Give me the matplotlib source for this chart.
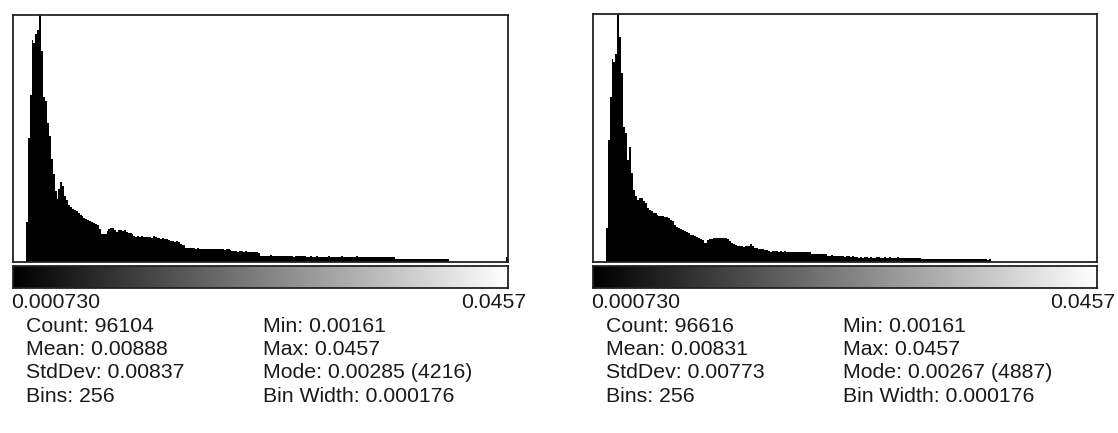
"""Two ImageJ-style histograms (256 bins) with grey ramp and stats block."""

import matplotlib
matplotlib.use("Agg")
import matplotlib.pyplot as plt
import numpy as np

W, H = 1118, 433

RANGE_LABELS = ["0.000730", "0.0457"]

LEFT_COUNTS = [
    0, 0, 0, 0, 0, 680, 2110, 2850, 3790, 3740, 3900, 3960, 4216, 3600, 2820, 2740,
    2370, 2150, 1750, 1500, 1210, 1080, 1250, 1360, 1290, 1120, 1060, 970, 940, 910, 890, 870,
    840, 800, 780, 745, 735, 710, 700, 690, 670, 655, 640, 560, 480, 475, 480, 525,
    560, 585, 575, 540, 520, 545, 540, 530, 545, 505, 495, 490, 485, 440, 435, 445,
    430, 440, 425, 420, 435, 425, 415, 440, 435, 410, 405, 400, 410, 395, 400, 380,
    355, 350, 345, 355, 340, 300, 295, 285, 240, 245, 238, 232, 240, 228, 236, 224,
    220, 226, 218, 222, 230, 216, 224, 220, 214, 226, 218, 222, 212, 228, 216, 210,
    190, 185, 182, 178, 186, 180, 175, 184, 172, 178, 168, 176, 165, 170, 160, 110,
    104, 100, 108, 96, 112, 102, 98, 106, 100, 94, 104, 108, 98, 102, 96, 100,
    92, 106, 98, 102, 94, 100, 96, 92, 88, 94, 86, 90, 96, 84, 92, 88,
    90, 86, 94, 88, 84, 92, 90, 86, 88, 94, 82, 90, 86, 92, 88, 84,
    90, 96, 86, 88, 82, 90, 86, 84, 92, 80, 88, 86, 84, 90, 82, 86,
    88, 80, 84, 86, 82, 52, 50, 54, 48, 52, 50, 46, 52, 50, 48, 54,
    50, 46, 50, 52, 48, 50, 46, 50, 48, 52, 46, 50, 48, 46, 50, 48,
    44, 0, 0, 0, 0, 0, 0, 0, 0, 0, 0, 0, 0, 0, 0, 0,
    0, 0, 0, 0, 0, 0, 0, 0, 0, 0, 0, 0, 0, 0, 0, 85,
]

RIGHT_COUNTS = [
    0, 0, 0, 0, 0, 670, 2400, 3250, 4000, 3940, 4100, 4887, 4430, 3710, 2660, 2530,
    2010, 2270, 1750, 1420, 1290, 1220, 1260, 1255, 1190, 1160, 1060, 1030, 995, 960, 962, 930,
    900, 895, 905, 890, 880, 865, 830, 800, 735, 690, 665, 650, 635, 600, 585, 570,
    535, 540, 515, 490, 470, 450, 425, 375, 370, 425, 450, 455, 470, 465, 475, 470,
    480, 465, 470, 450, 405, 375, 360, 340, 310, 305, 308, 300, 312, 305, 320, 355,
    320, 278, 272, 258, 252, 256, 230, 228, 210, 206, 212, 208, 214, 204, 210, 206,
    212, 202, 196, 200, 192, 198, 194, 190, 198, 196, 192, 194, 188, 196, 158, 156,
    162, 154, 160, 152, 158, 150, 125, 122, 128, 120, 124, 118, 122, 112, 116, 108,
    114, 110, 106, 112, 94, 90, 88, 92, 86, 94, 90, 84, 92, 88, 86, 90,
    94, 84, 88, 92, 86, 82, 90, 88, 84, 86, 92, 80, 88, 84, 86, 82,
    88, 80, 84, 86, 82, 80, 62, 58, 60, 64, 56, 60, 58, 62, 56, 60,
    58, 54, 62, 58, 56, 60, 54, 58, 56, 60, 52, 58, 56, 54, 58, 52,
    56, 54, 50, 56, 52, 54, 50, 52, 48, 52, 0, 0, 0, 0, 0, 0,
    0, 0, 0, 0, 0, 0, 0, 0, 0, 0, 0, 0, 0, 0, 0, 0,
    0, 0, 0, 0, 0, 0, 0, 0, 0, 0, 0, 0, 0, 0, 0, 0,
    0, 0, 0, 0, 0, 0, 0, 0, 0, 0, 0, 0, 0, 0, 0, 15,
]

LEFT_STATS = [
    ["Count: 96104", "Mean: 0.00888", "StdDev: 0.00837", "Bins: 256"],
    ["Min: 0.00161", "Max: 0.0457", "Mode: 0.00285 (4216)", "Bin Width: 0.000176"],
]
RIGHT_STATS = [
    ["Count: 96616", "Mean: 0.00831", "StdDev: 0.00773", "Bins: 256"],
    ["Min: 0.00161", "Max: 0.0457", "Mode: 0.00267 (4887)", "Bin Width: 0.000176"],
]

FONT = dict(family="Liberation Sans", size=15.3, color="#1a1a1a")


def _rect(x0, y0, x1, y1):
    return [x0 / W, 1 - y1 / H, (x1 - x0) / W, (y1 - y0) / H]


def _frame(ax):
    ax.set_xticks([]); ax.set_yticks([])
    for s in ax.spines.values():
        s.set_linewidth(1.3); s.set_color("#222222")


def _panel(fig, counts, stats, x0, x1, top, xpad):
    counts = np.asarray(counts, dtype=float)
    ax = fig.add_axes(_rect(x0, top, x1, 262))
    ax.stairs(counts, np.arange(len(counts) + 1), fill=True, color="black", lw=0)
    ax.set_xlim(-xpad, len(counts))
    ax.set_ylim(0, counts.max())
    _frame(ax)

    ramp = fig.add_axes(_rect(x0, 266, x1, 288))
    ramp.imshow(np.linspace(0, 1, 256)[None, :], cmap="gray", aspect="auto", vmin=0, vmax=1)
    _frame(ramp)

    lab = x0 - 2
    fig.text(lab / W, 1 - 307.5 / H, RANGE_LABELS[0], ha="left", va="baseline", **FONT)
    fig.text((x1 + 18) / W, 1 - 307.5 / H, RANGE_LABELS[1], ha="right", va="baseline", **FONT)
    for col, dx in zip(stats, (15, 252)):
        for row, txt in enumerate(col):
            fig.text((lab + dx) / W, 1 - (331.5 + 23.4 * row) / H, txt,
                     ha="left", va="baseline", **FONT)


def main():
    fig = plt.figure(figsize=(W / 100, H / 100), dpi=100)
    _panel(fig, LEFT_COUNTS, LEFT_STATS, 13.3, 508.3, 15, 1.5)
    _panel(fig, RIGHT_COUNTS, RIGHT_STATS, 593.3, 1097, 13.5, 1.3)
    fig.savefig("out.png", dpi=100)
    plt.close(fig)


if __name__ == "__main__":
    main()
